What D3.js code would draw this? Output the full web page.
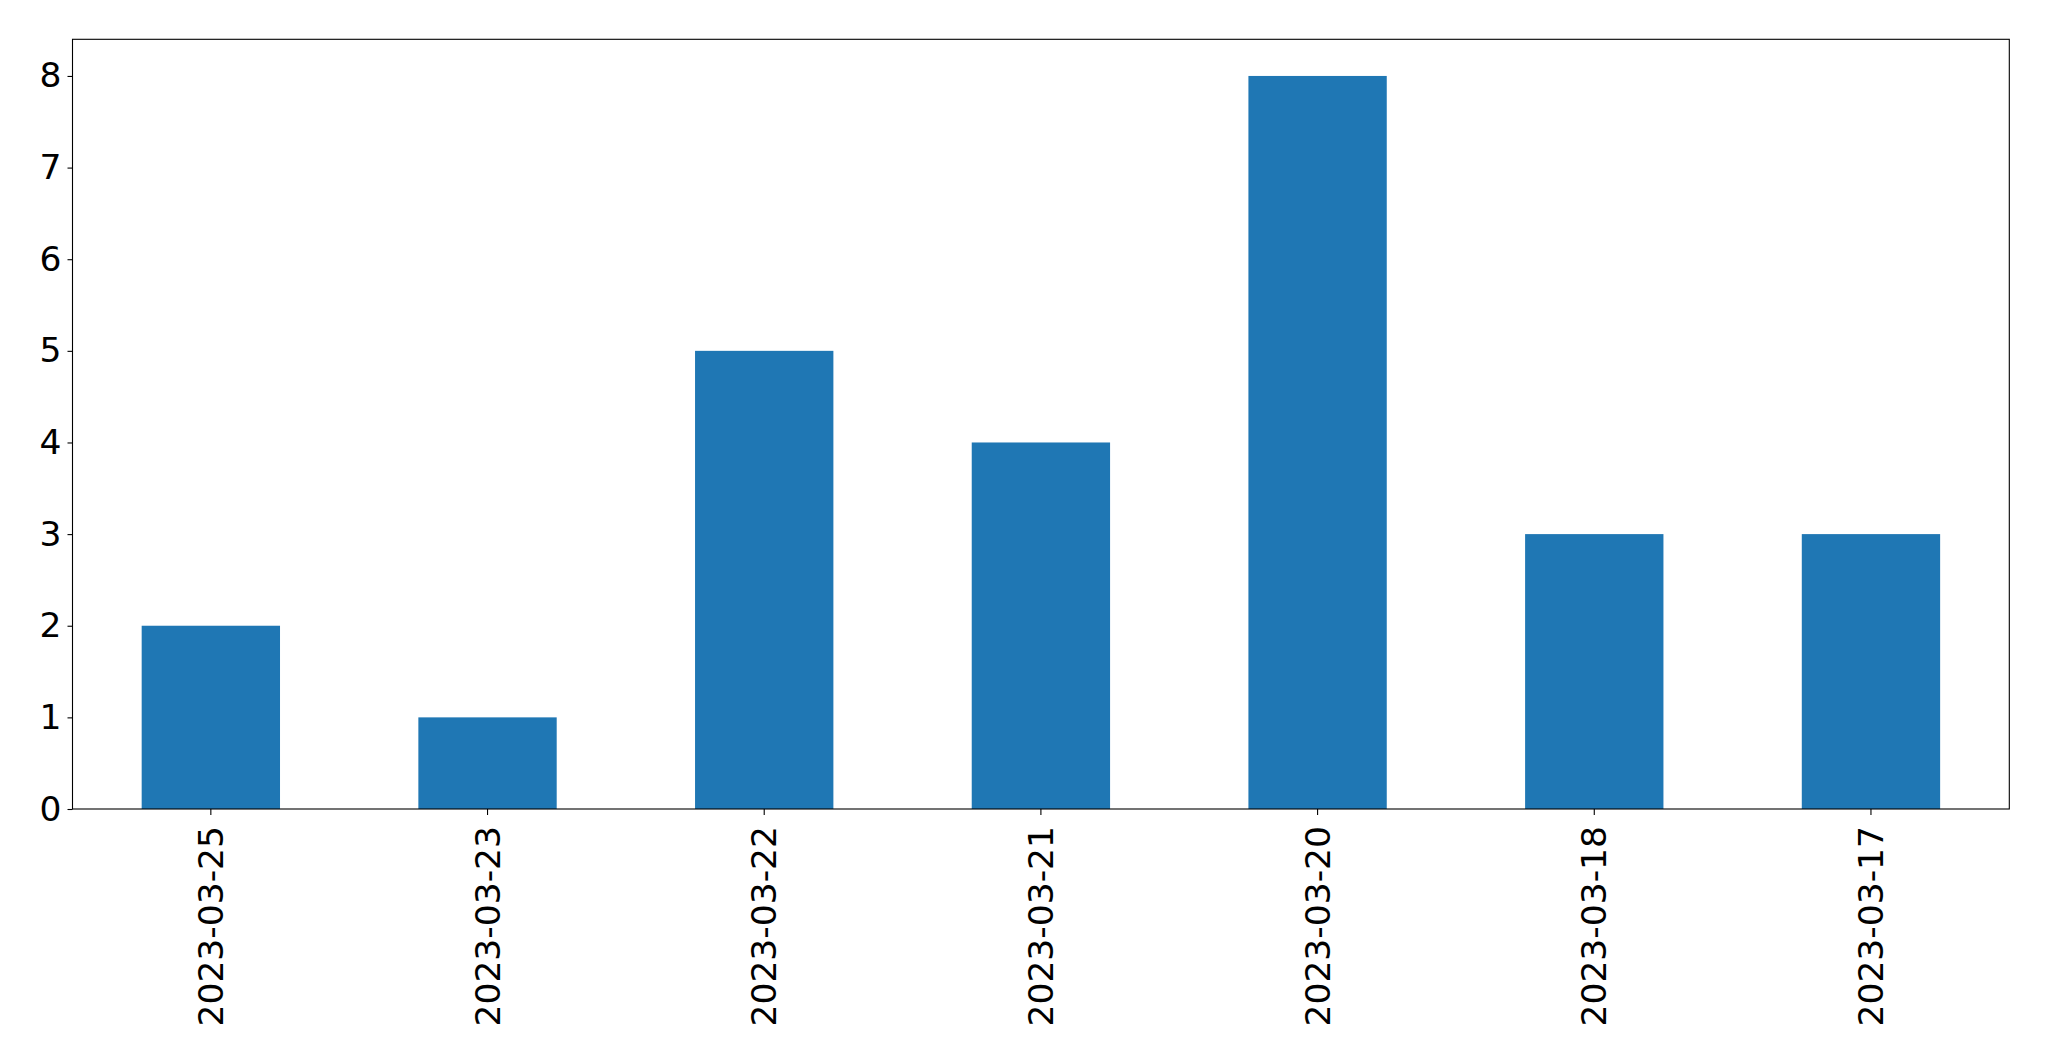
<!DOCTYPE html>
<html>
<head>
<meta charset="utf-8">
<script src="https://cdn.jsdelivr.net/npm/d3@7"></script>
<style>
  html, body { margin: 0; padding: 0; background: #fff; }
  svg { display: block; }
  text { font-family: "DejaVu Sans", sans-serif; fill: #000; }
</style>
</head>
<body>
<svg id="chart" width="2049" height="1061"></svg>
<script>
const categories = ["2023-03-25", "2023-03-23", "2023-03-22", "2023-03-21", "2023-03-20", "2023-03-18", "2023-03-17"];
const values = [2, 1, 5, 4, 8, 3, 3];
const yTicks = [0, 1, 2, 3, 4, 5, 6, 7, 8];

const W = 2049, H = 1061;
const margin = { left: 72.5, top: 39.3, right: W - 2009.3, bottom: H - 809 };
const iw = W - margin.left - margin.right;
const ih = H - margin.top - margin.bottom;

const svg = d3.select("#chart");
const g = svg.append("g").attr("transform", `translate(${margin.left},${margin.top})`);

const x = d3.scaleBand().domain(categories).range([0, iw]).paddingInner(0.5).paddingOuter(0.25);
const y = d3.scaleLinear().domain([0, 8.4]).range([ih, 0]);

g.selectAll("rect.bar").data(values).enter().append("rect")
  .attr("class", "bar")
  .attr("x", (d, i) => x(categories[i]))
  .attr("y", d => y(d))
  .attr("width", x.bandwidth())
  .attr("height", d => y(0) - y(d))
  .attr("fill", "#1f77b4");

const fs = "34.5px";

const yAxis = g.append("g").call(d3.axisLeft(y).tickValues(yTicks).tickFormat(d3.format("d")).tickSize(5).tickPadding(6));
yAxis.select(".domain").remove();
yAxis.selectAll("text").style("font-size", fs).attr("font-family", "DejaVu Sans");
yAxis.selectAll("line").attr("stroke", "#000").attr("stroke-width", 1.1);

const xAxis = g.append("g").attr("transform", `translate(0,${ih})`).call(d3.axisBottom(x).tickSize(6).tickPadding(0));
xAxis.select(".domain").remove();
xAxis.selectAll("line").attr("stroke", "#000").attr("stroke-width", 1.1);
xAxis.selectAll("text")
  .style("font-size", fs)
  .attr("font-family", "DejaVu Sans")
  .attr("transform", "rotate(-90)")
  .attr("text-anchor", "end")
  .attr("x", -17)
  .attr("y", 0)
  .attr("dy", "0.35em");

g.append("rect")
  .attr("x", 0).attr("y", 0).attr("width", iw).attr("height", ih)
  .attr("fill", "none").attr("stroke", "#000").attr("stroke-width", 1.1);
</script>
</body>
</html>
